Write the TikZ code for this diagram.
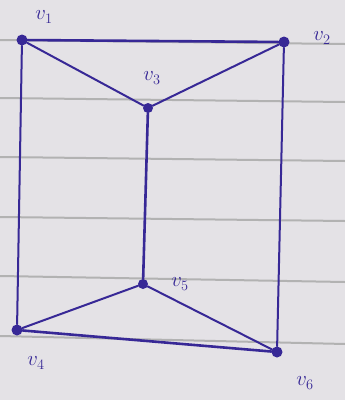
\documentclass[tikz,border=0pt]{standalone}
\begin{document}
\begin{tikzpicture}[x=1pt,y=-1pt,
  ink/.style={draw=inkc, line width=2.6pt, line cap=round},
  thin ink/.style={draw=inkc, line width=2pt, line cap=round},
  vert/.style={circle, fill=inkc, inner sep=0pt, minimum size=11pt},
  lbl/.style={text=inkc, font=\fontsize{22}{24}\selectfont},
  rule/.style={draw=gray!60, line width=2pt}]
\definecolor{inkc}{RGB}{55,40,150}
\definecolor{paper}{RGB}{228,226,230}
\fill[paper] (0,0) rectangle (345,400);
\useasboundingbox (0,0) rectangle (345,400);
\draw[rule] (0,40) -- (345,44);
\draw[rule] (0,98) -- (345,102);
\draw[rule] (0,157) -- (345,161);
\draw[rule] (0,217) -- (345,221);
\draw[rule] (0,276) -- (345,282);
\draw[rule] (0,336) -- (345,344);
\node[vert] (v1) at (22,40) {};
\node[vert] (v2) at (284,42) {};
\node[vert, minimum size=10pt] (v3) at (148,108) {};
\node[vert, minimum size=10pt] (v5) at (143,284) {};
\node[vert] (v4) at (17,330) {};
\node[vert] (v6) at (277,352) {};
\draw[ink] (v1) -- (v2);
\draw[thin ink] (v1) -- (v3);
\draw[thin ink] (v2) -- (v3);
\draw[ink] (v3) -- (v5);
\draw[thin ink] (v1) -- (v4);
\draw[thin ink] (v2) -- (v6);
\draw[thin ink] (v4) -- (v5);
\draw[thin ink] (v5) -- (v6);
\draw[ink] (v4) -- (v6);
\node[lbl] (l1) at (44,17) {$v_1$};
\node[lbl] (l2) at (322,38) {$v_2$};
\node[lbl] (l3) at (152,78) {$v_3$};
\node[lbl] (l5) at (180,284) {$v_5$};
\node[lbl] (l4) at (36,363) {$v_4$};
\node[lbl] (l6) at (305,383) {$v_6$};
\end{tikzpicture}
\end{document}
